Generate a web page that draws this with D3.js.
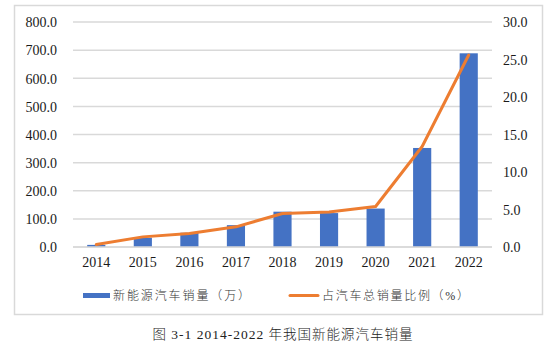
<!DOCTYPE html>
<html>
<head>
<meta charset="utf-8">
<script src="https://cdn.jsdelivr.net/npm/d3@7/dist/d3.min.js"></script>
<style>
  html, body { margin: 0; padding: 0; background: #fff; }
  svg { display: block; }
</style>
</head>
<body>
<svg id="chart" width="555" height="350"></svg>
<script>
// Annual sales of new energy vehicles (10k units) and their share of all vehicle sales (%)
const years = ["2014", "2015", "2016", "2017", "2018", "2019", "2020", "2021", "2022"];
const salesWan = [7.5, 33.1, 50.7, 77.7, 125.6, 120.6, 136.7, 352.1, 688.7];
const sharePct = [0.32, 1.35, 1.81, 2.69, 4.47, 4.68, 5.4, 13.4, 25.6];
const leftTicks = [0, 100, 200, 300, 400, 500, 600, 700, 800];
const rightTicks = [0, 5, 10, 15, 20, 25, 30];
const seriesNames = ["新能源汽车销量（万）", "占汽车总销量比例（%）"];
const caption = "图 3-1 2014-2022 年我国新能源汽车销量";

const blue = "#4472C4", orange = "#ED7D31", grid = "#d9d9d9";
const serif = "'Liberation Serif', 'Times New Roman', serif";
const cjk = "'Liberation Serif', 'Noto Sans CJK SC', serif";
const svg = d3.select("#chart");

// outer frame
svg.append("rect").attr("x", 14.5).attr("y", 5.5).attr("width", 528).attr("height", 309)
  .attr("fill", "#fff").attr("stroke", grid).attr("stroke-width", 1.5);

const plot = { left: 73, right: 492, top: 22, bottom: 247 };

const x = d3.scaleBand().domain(years).range([plot.left, plot.right]).paddingInner(0.61).paddingOuter(0.305);
const yL = d3.scaleLinear().domain([0, 800]).range([plot.bottom, plot.top]);
const yR = d3.scaleLinear().domain([0, 30]).range([plot.bottom, plot.top]);

function styleTicks(g) {
  g.select(".domain").remove();
  g.attr("font-family", serif).attr("font-size", 14);
  g.selectAll(".tick text").attr("fill", "#1a1a1a")
    .attr("font-family", serif).attr("font-size", 14);
}

// horizontal gridlines
svg.append("g").selectAll("line").data(leftTicks).join("line")
  .attr("x1", plot.left).attr("x2", plot.right)
  .attr("y1", d => yL(d)).attr("y2", d => yL(d))
  .attr("stroke", grid).attr("stroke-width", 1.5);

// left axis
const gL = svg.append("g").attr("transform", `translate(${plot.left},0)`)
  .call(d3.axisLeft(yL).tickValues(leftTicks).tickFormat(d3.format(".1f")).tickSize(0).tickPadding(16));
styleTicks(gL);
gL.selectAll(".tick text").attr("dy", "0.34em");

// right axis
const gR = svg.append("g").attr("transform", `translate(${plot.right},0)`)
  .call(d3.axisRight(yR).tickValues(rightTicks).tickFormat(d3.format(".1f")).tickSize(0).tickPadding(11));
styleTicks(gR);
gR.selectAll(".tick text").attr("dy", "0.34em");

// bars
svg.append("g").selectAll("rect").data(years).join("rect")
  .attr("x", d => x(d))
  .attr("width", x.bandwidth())
  .attr("y", (d, i) => yL(salesWan[i]))
  .attr("height", (d, i) => yL(0) - yL(salesWan[i]))
  .attr("fill", blue);

// baseline
svg.append("line").attr("x1", plot.left).attr("x2", plot.right)
  .attr("y1", yL(0)).attr("y2", yL(0)).attr("stroke", grid).attr("stroke-width", 1.5);

// bottom category labels
const gB = svg.append("g").attr("transform", `translate(0,${plot.bottom})`)
  .call(d3.axisBottom(x).tickSize(0).tickPadding(10));
styleTicks(gB);

// share line
const line = d3.line().x((d, i) => x(years[i]) + x.bandwidth() / 2).y(d => yR(d));
svg.append("path").datum(sharePct).attr("d", line)
  .attr("fill", "none").attr("stroke", orange).attr("stroke-width", 3)
  .attr("stroke-linejoin", "round").attr("stroke-linecap", "round");

// legend
const lg = svg.append("g");
lg.append("rect").attr("x", 83).attr("y", 293).attr("width", 27).attr("height", 5).attr("fill", blue);
lg.append("text").attr("x", 113).attr("y", 300).attr("font-family", cjk).attr("fill", "#333")
  .attr("font-size", 12).attr("font-weight", 300).attr("letter-spacing", 1.9).text(seriesNames[0]);
lg.append("line").attr("x1", 290).attr("x2", 318).attr("y1", 295.5).attr("y2", 295.5)
  .attr("stroke", orange).attr("stroke-width", 3).attr("stroke-linecap", "round");
lg.append("text").attr("x", 322).attr("y", 300).attr("font-family", cjk).attr("fill", "#333")
  .attr("font-size", 12).attr("font-weight", 300).attr("letter-spacing", 1.7).text(seriesNames[1]);

// caption
svg.append("text").attr("x", 283).attr("y", 339).attr("text-anchor", "middle")
  .attr("font-family", cjk).attr("font-weight", 300)
  .attr("font-size", 13.5).attr("fill", "#222").attr("letter-spacing", 1.0).text(caption);
</script>
</body>
</html>
